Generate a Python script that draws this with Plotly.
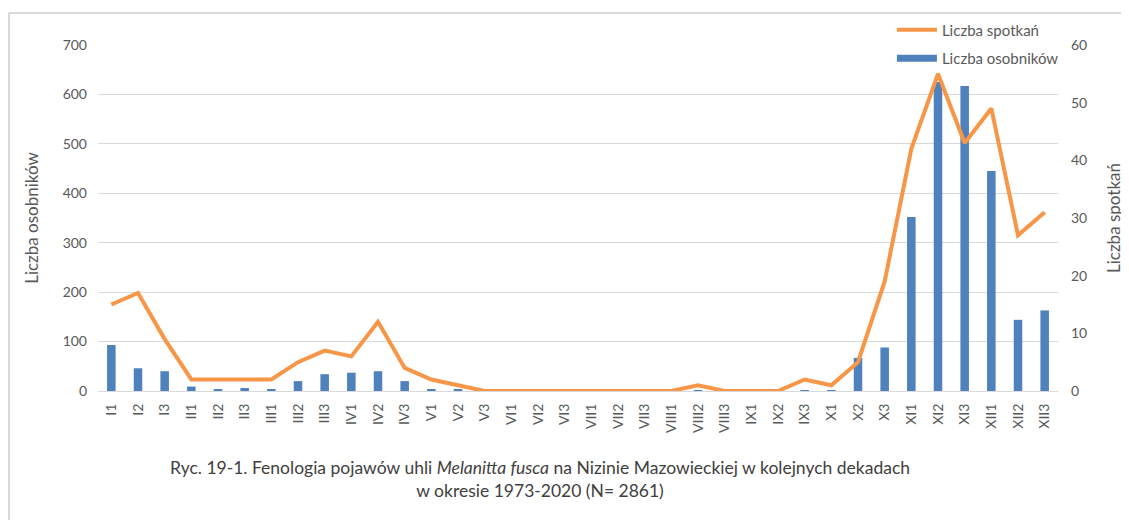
import plotly.graph_objects as go

categories = ["I1", "I2", "I3", "II1", "II2", "II3", "III1", "III2", "III3",
              "IV1", "IV2", "IV3", "V1", "V2", "V3", "VI1", "VI2", "VI3",
              "VII1", "VII2", "VII3", "VIII1", "VIII2", "VIII3", "IX1", "IX2", "IX3",
              "X1", "X2", "X3", "XI1", "XI2", "XI3", "XII1", "XII2", "XII3"]

osobniki = [93, 46, 40, 9, 3, 6, 4, 20, 34,
            37, 40, 20, 3, 3, 0, 0, 0, 0,
            0, 0, 0, 0, 2, 0, 0, 0, 2,
            2, 67, 88, 352, 625, 617, 445, 144, 163]

spotkania = [15, 17, 9, 2, 2, 2, 2, 5, 7,
             6, 12, 4, 2, 1, 0, 0, 0, 0,
             0, 0, 0, 0, 1, 0, 0, 0, 2,
             1, 5, 19, 42, 55, 43, 49, 27, 31]

left_ticks = [0, 100, 200, 300, 400, 500, 600, 700]
right_ticks = [0, 10, 20, 30, 40, 50, 60]

FONT = "Lato, 'Open Sans', sans-serif"
GRAY = "#595959"
GRID = "#d9d9d9"
BLUE = "#4f81bd"

fig = go.Figure()
fig.add_trace(go.Scatter(
    x=categories, y=spotkania, name="Liczba spotkań", mode="lines",
    legendgroup="a",
    line=dict(color="#f79646", width=4), yaxis="y2"))
fig.add_trace(go.Bar(
    x=categories, y=osobniki, name="Liczba osobników",
    legendgroup="b", showlegend=False,
    marker=dict(color=BLUE, line=dict(width=0)), yaxis="y"))
# legend proxy giving the wide rectangular key of the bar series
fig.add_trace(go.Scatter(
    x=[None], y=[None], name="Liczba osobników", mode="lines",
    legendgroup="b", line=dict(color=BLUE, width=7), yaxis="y",
    hoverinfo="skip"))

fig.update_layout(
    width=1121, height=512,
    margin=dict(l=90, r=71, t=37, b=129, autoexpand=False),
    paper_bgcolor="white", plot_bgcolor="white",
    font=dict(family=FONT, size=14, color=GRAY),
    bargap=0.68,
    showlegend=True,
    legend=dict(x=0.827, y=1.091, xanchor="left", yanchor="top",
                bgcolor="rgba(0,0,0,0)", font=dict(size=15, color=GRAY),
                tracegroupgap=6, itemwidth=40),
    xaxis=dict(type="category", tickangle=-90, showgrid=False,
               showline=True, linecolor=GRID, linewidth=1,
               ticks="", ticklabelstandoff=6,
               tickfont=dict(size=14, color=GRAY)),
    yaxis=dict(range=[0, 700], tickvals=left_ticks, showgrid=True,
               gridcolor=GRID, gridwidth=1, zeroline=False, showline=False,
               ticks="", ticklabelstandoff=10,
               title=dict(text="Liczba osobników", standoff=19,
                          font=dict(size=17, color=GRAY))),
    yaxis2=dict(range=[0, 60], tickvals=right_ticks, overlaying="y",
                side="right", showgrid=False, zeroline=False, showline=False,
                ticks="", ticklabelstandoff=12,
                title=dict(text="Liczba spotkań", standoff=21,
                           font=dict(size=17, color=GRAY))),
)

# frame border (left and top)
fig.add_shape(type="line", xref="paper", yref="paper",
              x0=-0.0927, x1=-0.0927, y0=-0.4, y1=1.0925,
              line=dict(color=GRID, width=2))
fig.add_shape(type="line", xref="paper", yref="paper",
              x0=-0.0927, x1=1.08, y0=1.0925, y1=1.0925,
              line=dict(color=GRID, width=2))

fig.add_annotation(
    xref="paper", yref="paper", x=0.46, y=-0.254,
    xanchor="center", yanchor="middle", showarrow=False, align="center",
    text="Ryc. 19-1. Fenologia pojawów uhli <i>Melanitta fusca</i> na Nizinie Mazowieckiej w kolejnych dekadach<br>w okresie 1973-2020 (N= 2861)",
    font=dict(family=FONT, size=17.5, color="#404040"))

fig.write_html("out.html")
